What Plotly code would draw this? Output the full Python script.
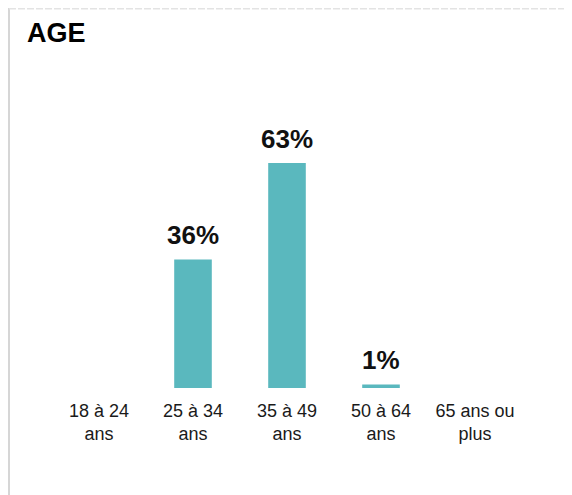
import plotly.graph_objects as go

# tranches d'age et parts (%)
categories = ["18 à 24<br>ans", "25 à 34<br>ans", "35 à 49<br>ans", "50 à 64<br>ans", "65 ans ou<br>plus"]
values = [0, 36, 63, 1, 0]

# the page adds an 8px body margin, so the figure is drawn 8px in from the window edge
W, H = 556, 487
OFF = 8
BAR_COLOR = "#5AB8BE"
FONT = "Arial, Liberation Sans, sans-serif"


def px(x):
    return (x - OFF) / W


def py(y):
    return 1 - (y - OFF) / H


fig = go.Figure(go.Bar(
    x=categories,
    y=values,
    marker=dict(color=BAR_COLOR, line=dict(width=0)),
    hoverinfo="skip",
))

# value labels above non-zero bars
for cat, val in zip(categories, values):
    if val > 0:
        fig.add_annotation(
            x=cat, y=val, text=f"<b>{val}%</b>",
            showarrow=False, yanchor="bottom", yshift=7,
            font=dict(size=26, color="#111111", family=FONT),
        )

# card border: solid left edge, dashed top edge
fig.add_shape(type="line", xref="paper", yref="paper",
              x0=1 / W, x1=1 / W, y0=0, y1=1,
              line=dict(color="#d6d6d6", width=2))
fig.add_shape(type="line", xref="paper", yref="paper",
              x0=1 / W, x1=1, y0=1 - 0.75 / H, y1=1 - 0.75 / H,
              line=dict(color="#e3e3e3", width=1.5, dash="7px,2px"))

fig.update_layout(
    width=W,
    height=H,
    margin=dict(l=0, r=0, t=0, b=0),
    paper_bgcolor="white",
    plot_bgcolor="white",
    showlegend=False,
    bargap=0.6,
    font=dict(family=FONT),
    title=dict(
        text="<b>AGE</b>",
        x=px(27), xanchor="left",
        y=py(33), yanchor="middle",
        font=dict(size=27, color="#000000", family=FONT),
    ),
    xaxis=dict(
        domain=[px(52), px(522)],
        showgrid=False, showline=False, zeroline=False,
        ticks="", ticklabelstandoff=10,
        tickfont=dict(size=18, color="#1a1a1a", family=FONT),
        fixedrange=True,
    ),
    yaxis=dict(
        domain=[py(388), py(102.3)],
        range=[0, 80],
        visible=False,
        fixedrange=True,
    ),
)

fig.write_html("out.html")
